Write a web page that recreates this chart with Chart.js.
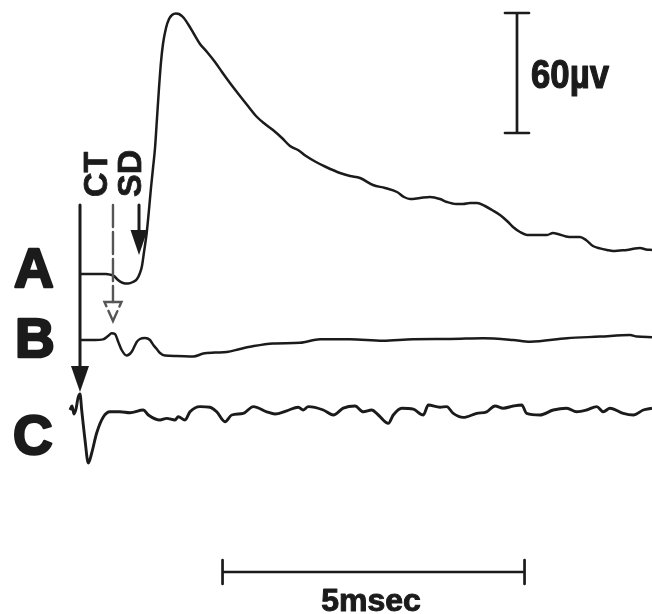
<!DOCTYPE html>
<html>
<head>
<meta charset="utf-8">
<script src="https://cdn.jsdelivr.net/npm/chart.js@4/dist/chart.umd.min.js"></script>
<style>
  body { margin: 0; background: #fff; }
  #wrap { width: 652px; height: 614px; }
</style>
</head>
<body>
<div id="wrap"><canvas id="trace" width="652" height="614"></canvas></div>
<script>
// time in msec from the CT stimulus, amplitude in microvolts
const timeA = [0, 0.248, 0.430, 0.497, 0.563, 0.629, 0.712, 0.795, 0.877, 0.944, 0.993, 1.026, 1.060, 1.104, 1.142, 1.175, 1.209, 1.242, 1.275, 1.308, 1.341, 1.374, 1.424, 1.474, 1.523, 1.589, 1.639, 1.705, 1.788, 1.887, 1.987, 2.103, 2.235, 2.351, 2.483, 2.649, 2.781, 2.930, 3.063, 3.195, 3.344, 3.477, 3.609, 3.742, 3.907, 4.073, 4.305, 4.470, 4.636, 4.851, 5.050, 5.248, 5.364, 5.464, 5.629, 5.795, 5.960, 6.076, 6.225, 6.341, 6.457, 6.573, 6.705, 6.821, 6.954, 7.070, 7.169, 7.285, 7.401, 7.566, 7.732, 7.831, 7.914, 8.046, 8.162, 8.278, 8.377, 8.493, 8.609, 8.725, 8.825, 8.940, 9.056, 9.189, 9.272, 9.371, 9.470]
const uvA = [0, 0, 0, -0.3, -1, -3, -4.5, -4.8, -4, -2.5, 0.5, 4, 11, 20.5, 32, 43, 53, 63, 78, 93, 106, 115, 123, 127.5, 129.5, 130.3, 130, 128.5, 125, 120, 115, 111, 106, 101, 95.5, 89, 84, 78.5, 75, 72, 68, 64, 62, 59, 56, 53.5, 50.5, 49, 48, 44.5, 43, 41, 38.5, 37.5, 38, 38.5, 37.5, 36, 35, 35, 35.5, 35.5, 34, 32, 29.5, 26.5, 23.5, 21, 19.5, 19.5, 19.5, 20.5, 20, 18.8, 18.5, 18.5, 17, 14, 12.8, 12, 11.5, 11.8, 12, 12.8, 13, 12.3, 12]

const timeB = [0, 0.248, 0.381, 0.464, 0.525, 0.579, 0.634, 0.690, 0.773, 0.856, 0.939, 0.993, 1.076, 1.159, 1.214, 1.270, 1.325, 1.407, 1.601, 1.876, 2.041, 2.235, 2.429, 2.649, 2.815, 3.195, 3.642, 3.974, 4.470, 5.017, 5.513, 6.126, 6.672, 7.169, 7.450, 8.063, 8.609, 9.106, 9.222, 9.470]
const uvB = [0, 0, 0.3, 2, 3.4, 3, -1, -5, -7.8, -5.9, -1, 0.5, 1, 0, -2.5, -4.5, -6.5, -7.8, -8, -8.3, -6.8, -6.3, -6, -4.5, -3.4, -1.7, -1.4, 0.4, 0.4, -0.4, 0.4, 0.5, 0.9, 0, -0.9, 0.9, 1.7, 2.5, 1.7, 1.4]

const timeC = [-0.166, -0.132, -0.099, -0.066, -0.033, 0, 0.028, 0.083, 0.137, 0.194, 0.276, 0.386, 0.497, 0.662, 0.828, 1.048, 1.131, 1.325, 1.435, 1.573, 1.627, 1.738, 1.821, 1.987, 2.152, 2.263, 2.401, 2.512, 2.704, 2.869, 3.091, 3.228, 3.422, 3.614, 3.697, 3.780, 4.028, 4.194, 4.359, 4.553, 4.690, 4.829, 4.939, 5.104, 5.187, 5.326, 5.518, 5.684, 5.767, 5.960, 6.071, 6.180, 6.346, 6.568, 6.733, 6.871, 7.008, 7.174, 7.313, 7.396, 7.616, 7.836, 8.058, 8.223, 8.389, 8.555, 8.664, 8.775, 8.995, 9.161, 9.326, 9.470]
const uvC = [0, 2, -2, 0.5, 6, 8, 0, -15, -26.5, -21.5, -11.5, -3.5, -0.9, -0.9, -1.4, 0, -2.5, -5, -4.2, -5, -3.4, -5, -0.9, 1.7, 1.4, -0.9, -5.9, -2.5, -1.7, 1.7, -0.9, -2, -0.4, 1.4, 0, 1.7, 0, -2.5, 0.9, 2, -0.9, 0, -2.5, -6.7, -2.5, 0.9, 0.4, -2.5, 2.5, 1.4, 1.7, -1.7, -3.7, -1.7, -0.9, 2, 0.9, 2, 2.5, -1.7, -2.5, 0, 0.9, -0.9, 0, 1.7, -0.9, 0.9, -1.7, -2.5, 0, 0.9]

const traceNames = ['A', 'B', 'C']
const stimNames = ['CT', 'SD']
const timeBarLabel = '5msec'
const ampBarLabel = '60µv'

// layout of the figure (not data)
const offsets = [0, -33, -68]
const xRange = [-1.3245, 9.4702]
const yRange = [-170, 137]
const ink = '#1b1b1b'

const series = [[timeA, uvA], [timeB, uvB], [timeC, uvC]]
const datasets = series.map(([t, v], i) => ({
  label: traceNames[i],
  data: t.map((x, j) => ({ x, y: v[j] + offsets[i] })),
  borderColor: ink,
  borderWidth: i === 2 ? 2.9 : 2.5,
  pointRadius: 0,
  cubicInterpolationMode: 'monotone',
  fill: false,
}))

function arrowDown(ctx, x, yTop, yTip, headLen, half, filled) {
  ctx.beginPath()
  ctx.moveTo(x, yTop)
  ctx.lineTo(x, yTip - (filled ? headLen * 0.5 : headLen))
  ctx.stroke()
  ctx.beginPath()
  ctx.moveTo(x - half, yTip - headLen)
  ctx.lineTo(x + half, yTip - headLen)
  ctx.lineTo(x, yTip)
  ctx.closePath()
  if (filled) ctx.fill()
  else ctx.stroke()
}

// bold text made a bit heavier, like the printed letters
function heavyText(ctx, s, x, y, maxW, extra) {
  ctx.lineWidth = extra
  ctx.lineJoin = 'round'
  if (maxW) {
    ctx.strokeText(s, x, y, maxW)
    ctx.fillText(s, x, y, maxW)
  } else {
    ctx.strokeText(s, x, y)
    ctx.fillText(s, x, y)
  }
}

const figurePlugin = {
  id: 'figure',
  afterDatasetsDraw(chart) {
    const { ctx } = chart
    const xs = chart.scales.x
    const ys = chart.scales.y
    const px = (t) => xs.getPixelForValue(t)
    const py = (v) => ys.getPixelForValue(v)
    ctx.save()
    ctx.strokeStyle = ink
    ctx.fillStyle = ink
    ctx.lineCap = 'round'

    // stimulus arrows
    ctx.lineWidth = 3
    arrowDown(ctx, px(0), py(34.5), py(-59), 26, 9, true)
    arrowDown(ctx, px(0.977), py(34.5), py(9.5), 25, 8.5, true)
    ctx.lineWidth = 2.4
    ctx.strokeStyle = '#555'
    ctx.setLineDash([22, 5])
    arrowDown(ctx, px(0.546), py(34.5), py(-23.5), 19, 8.5, false)
    ctx.setLineDash([])

    // scale bars
    ctx.strokeStyle = ink
    ctx.lineWidth = 2.7
    const bx = px(7.235)
    ctx.beginPath()
    ctx.moveTo(bx, py(130.5)); ctx.lineTo(bx, py(70.5))
    ctx.moveTo(bx - 12, py(130.5)); ctx.lineTo(bx + 12, py(130.5))
    ctx.moveTo(bx - 12, py(70.5)); ctx.lineTo(bx + 12, py(70.5))
    const hy = py(-149)
    ctx.moveTo(px(2.36), hy); ctx.lineTo(px(7.36), hy)
    ctx.moveTo(px(2.36), hy - 12); ctx.lineTo(px(2.36), hy + 12)
    ctx.moveTo(px(7.36), hy - 12); ctx.lineTo(px(7.36), hy + 12)
    ctx.stroke()

    // text
    ctx.textBaseline = 'alphabetic'
    ctx.font = 'bold 55px "Liberation Sans", Arial, sans-serif'
    ctx.textAlign = 'left'
    heavyText(ctx, traceNames[0], 14, 287, 0, 2.5)
    heavyText(ctx, traceNames[1], 15, 357, 0, 2.5)
    heavyText(ctx, traceNames[2], 13, 454, 0, 2.5)

    ctx.font = 'bold 40px "Liberation Sans", Arial, sans-serif'
    heavyText(ctx, ampBarLabel, 531, 88, 78, 1.2)

    ctx.font = 'bold 32px "Liberation Sans", Arial, sans-serif'
    ctx.textAlign = 'center'
    heavyText(ctx, timeBarLabel, 371, 611, 104, 1)

    ctx.font = 'bold 34px "Liberation Sans", Arial, sans-serif'
    ctx.textAlign = 'left'
    ;[[107, stimNames[0]], [141, stimNames[1]]].forEach(([x, s]) => {
      ctx.save()
      ctx.translate(x, 197)
      ctx.rotate(-Math.PI / 2)
      heavyText(ctx, s, 0, 0, 49, 0.8)
      ctx.restore()
    })
    ctx.restore()
  }
}

new Chart(document.getElementById('trace'), {
  type: 'line',
  data: { datasets },
  options: {
    responsive: false,
    animation: false,
    layout: { padding: 0 },
    plugins: { legend: { display: false }, tooltip: { enabled: false } },
    scales: {
      x: { type: 'linear', display: false, min: xRange[0], max: xRange[1] },
      y: { display: false, min: yRange[0], max: yRange[1] },
    },
  },
  plugins: [figurePlugin],
})
</script>
</body>
</html>
